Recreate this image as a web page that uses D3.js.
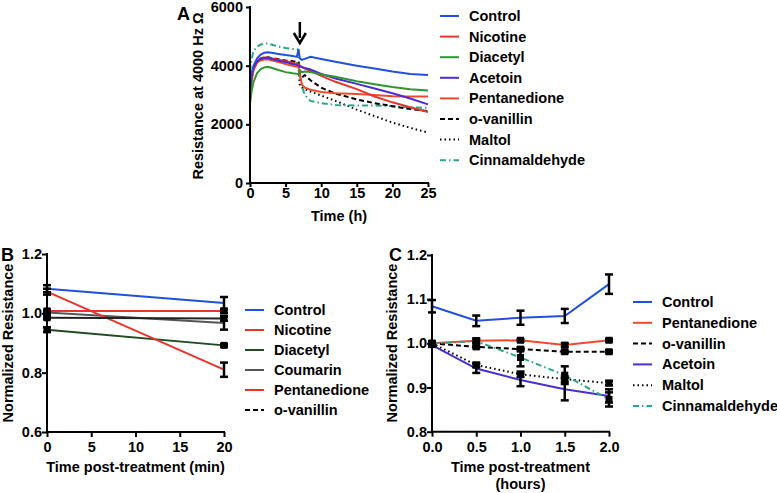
<!DOCTYPE html>
<html><head><meta charset="utf-8">
<script src="https://cdn.jsdelivr.net/npm/d3@7"></script>
<style>
body{margin:0;background:#fff;}
text{font-family:"Liberation Sans",Arial,sans-serif;font-weight:bold;}
</style></head>
<body><svg id="c" width="777" height="493"></svg>
<script>
// ---------- Panel A data ----------
const tA = [0,0.2,0.5,1,1.5,2,2.5,3,4,5,6,6.6,6.8,7,7.3,7.7,8.5,10,12,15,17.5,20,22.5,25];
const aControl = [3300,3700,4000,4250,4380,4440,4460,4440,4400,4360,4330,4300,4550,4250,4200,4230,4300,4230,4130,4000,3900,3800,3720,3680];
const aNicotine = [3000,3500,3900,4150,4250,4280,4280,4250,4200,4150,4100,4050,4050,4000,3950,3900,3820,3650,3450,3200,2950,2750,2580,2420];
const aDiacetyl = [2700,3100,3450,3750,3880,3940,3960,3930,3850,3780,3740,3720,3700,3850,3780,3800,3780,3700,3620,3470,3370,3270,3200,3150];
const aAcetoin = [3200,3600,3950,4150,4230,4260,4270,4230,4170,4120,4060,4020,4000,3980,3950,3920,3870,3720,3560,3380,3220,3060,2880,2680];
const aPentanedione = [3000,3450,3850,4100,4180,4210,4220,4180,4120,4060,4000,3960,3950,3700,3350,3250,3180,3100,3060,3030,3000,2960,2950,2950];
const aVanillin = [3200,3600,3950,4150,4250,4280,4290,4260,4220,4180,4150,4120,4100,3700,3600,3680,3500,3250,3050,2850,2720,2620,2520,2450];
const aMaltol = [3100,3500,3900,4150,4200,4250,4260,4220,4180,4150,4100,4080,4060,3300,3250,3200,3120,2980,2800,2500,2280,2060,1880,1720];
const aCinnam = [3800,4200,4500,4650,4720,4750,4760,4720,4650,4600,4570,4560,4550,3650,3300,3000,2800,2720,2660,2640,2640,2620,2580,2560];
const aNames = ["Control","Nicotine","Diacetyl","Acetoin","Pentanedione","o-vanillin","Maltol","Cinnamaldehyde"];
const aXTicks = [0,5,10,15,20,25];
const aYTicks = [0,2000,4000,6000];
const arrowT = 7;

// ---------- Panel B data ----------
const tB = [0,20];
const bNames = ["Control","Nicotine","Diacetyl","Coumarin","Pentanedione","o-vanillin"];
const bControl = [1.083,1.035], bControlErr = [0.012,0.02];
const bNicotine = [1.008,1.008], bNicotineErr = [0.004,0.006];
const bDiacetyl = [0.945,0.892], bDiacetylErr = [0.008,0.004];
const bCoumarin = [1.003,0.967], bCoumarinErr = [0.008,0.022];
const bPentanedione = [1.073,0.81], bPentanedioneErr = [0.01,0.024];
const bVanillin = [0.985,0.983], bVanillinErr = [0.004,0.008];
const bXTicks = [0,5,10,15,20];
const bYTicks = [0.6,0.8,1.0,1.2];

// ---------- Panel C data ----------
const tC = [0,0.5,1,1.5,2];
const cNames = ["Control","Pentanedione","o-vanillin","Acetoin","Maltol","Cinnamaldehyde"];
const cControl = [1.084,1.051,1.058,1.062,1.134], cControlErr = [0.014,0.012,0.016,0.016,0.022];
const cPentanedione = [1.0,1.006,1.007,0.996,1.007], cPentanedioneErr = [0.003,0.005,0.003,0.004,0.003];
const cVanillin = [1.0,0.992,0.987,0.981,0.981], cVanillinErr = [0.003,0.003,0.004,0.003,0.003];
const cAcetoin = [0.996,0.943,0.917,0.896,0.881], cAcetoinErr = [0.004,0.01,0.014,0.025,0.015];
const cMaltol = [1.0,0.951,0.93,0.919,0.91], cMaltolErr = [0.003,0.005,0.006,0.006,0.005];
const cCinnam = [1.0,1.005,0.968,0.928,0.873], cCinnamErr = [0.003,0.004,0.02,0.02,0.016];
const cXTicks = [0,0.5,1.0,1.5,2.0];
const cYTicks = [0.8,0.9,1.0,1.1,1.2];

// ---------- styles ----------
const BLUE="#2250dc", RED="#e8352c", GREEN="#2f9632", DKGREEN="#1f4a22", PURPLE="#4a2ed4", ORANGE="#f04a2a", TEAL="#2aa58a", GRAY="#555555", BLACK="#000";
const DASH="5,3", DOT="1.5,3", DASHDOT="6,3,1.5,3";

const svg = d3.select("#c");
const FS = 14.5;

function axes(g, x, y, xt, yt, xf, yf, xLab, yLab, tick) {
  const ax = g.append("g").attr("transform",`translate(0,${y.range()[0]})`)
    .call(d3.axisBottom(x).tickValues(xt).tickFormat(xf).tickSize(tick).tickSizeOuter(0));
  const ay = g.append("g").attr("transform",`translate(${x.range()[0]},0)`)
    .call(d3.axisLeft(y).tickValues(yt).tickFormat(yf).tickSize(tick).tickSizeOuter(0));
  [ax,ay].forEach(a=>{
    a.selectAll("path,line").attr("stroke","#000").attr("stroke-width",2);
    a.selectAll("text").attr("font-size",FS).attr("font-weight","bold").attr("fill","#000")
     .attr("font-family","Liberation Sans, Arial, sans-serif");
  });
  ax.select(".domain").attr("d",`M${x.range()[0]-1},0H${x.range()[1]+1}`);
  ay.select(".domain").attr("d",`M0,${y.range()[0]+1}V${y.range()[1]-1}`);
  ay.selectAll("text").attr("x",-yLab);
  ax.selectAll("text").attr("y",xLab);
}

function legend(g, items, x0, y0, dy) {
  items.forEach((it,i)=>{
    const yy = y0 + i*dy;
    g.append("line").attr("x1",x0).attr("x2",x0+19).attr("y1",yy).attr("y2",yy)
      .attr("stroke",it.color).attr("stroke-width",2).attr("stroke-dasharray",it.dash||null);
    g.append("text").attr("x",x0+29).attr("y",yy+5).attr("font-size",FS).text(it.name);
  });
}

// ---------- Panel A ----------
{
  const g = svg.append("g");
  const x = d3.scaleLinear().domain([0,25]).range([250,428]);
  const y = d3.scaleLinear().domain([0,6000]).range([183,7]);
  const series = [
    {name:aNames[0], v:aControl, color:BLUE},
    {name:aNames[1], v:aNicotine, color:RED},
    {name:aNames[2], v:aDiacetyl, color:GREEN},
    {name:aNames[3], v:aAcetoin, color:PURPLE},
    {name:aNames[4], v:aPentanedione, color:ORANGE},
    {name:aNames[5], v:aVanillin, color:BLACK, dash:DASH},
    {name:aNames[6], v:aMaltol, color:BLACK, dash:DOT},
    {name:aNames[7], v:aCinnam, color:TEAL, dash:DASHDOT}
  ];
  const line = d3.line().x((d,i)=>x(tA[i])).y(d=>y(d));
  const drawOrder = [6,7,5,4,1,3,2,0];
  drawOrder.forEach(k=>{
    const s = series[k];
    g.append("path").attr("d",line(s.v)).attr("fill","none").attr("stroke",s.color)
      .attr("stroke-width",2).attr("stroke-dasharray",s.dash||null);
  });
  axes(g,x,y,aXTicks,aYTicks,d3.format("d"),d3.format("d"),5,7,4);
  // arrow
  const ax = x(arrowT);
  g.append("line").attr("x1",ax).attr("x2",ax).attr("y1",22).attr("y2",38).attr("stroke","#000").attr("stroke-width",2.5);
  g.append("path").attr("d",`M${ax-6},33L${ax},43L${ax+6},33`).attr("fill","none").attr("stroke","#000").attr("stroke-width",2.5);
  g.append("text").attr("x",177).attr("y",20).attr("font-size",18).text("A");
  g.append("text").attr("transform",`translate(203,96) rotate(-90)`).attr("text-anchor","middle")
    .attr("font-size",FS).text("Resistance at 4000 Hz Ω");
  g.append("text").attr("x",x(12.5)).attr("y",221).attr("text-anchor","middle").attr("font-size",FS).text("Time (h)");
  legend(g, series, 440, 16, 20.6);
}

function errPanel(g, x, y, ts, series) {
  const line = d3.line().x((d,i)=>x(ts[i])).y(d=>y(d));
  series.forEach(s=>{
    g.append("path").attr("d",line(s.v)).attr("fill","none").attr("stroke",s.color)
      .attr("stroke-width",2).attr("stroke-dasharray",s.dash||null);
  });
  series.forEach(s=>{
    s.v.forEach((v,i)=>{
      const cx = x(ts[i]);
      const e = s.e[i];
      g.append("line").attr("x1",cx).attr("x2",cx).attr("y1",y(v+e)).attr("y2",y(v-e)).attr("stroke","#000").attr("stroke-width",2.5);
      [v+e,v-e].forEach(w=>g.append("line").attr("x1",cx-4).attr("x2",cx+4).attr("y1",y(w)).attr("y2",y(w)).attr("stroke","#000").attr("stroke-width",2.5));
      if (s.marker) g.append("rect").attr("x",cx-3.5).attr("y",y(v)-3.5).attr("width",7).attr("height",7).attr("fill","#000");
    });
  });
}

// ---------- Panel B ----------
{
  const g = svg.append("g");
  const x = d3.scaleLinear().domain([0,20]).range([47,224]);
  const y = d3.scaleLinear().domain([0.6,1.2]).range([432,254]);
  const series = [
    {name:bNames[0], v:bControl, e:bControlErr, color:BLUE},
    {name:bNames[1], v:bNicotine, e:bNicotineErr, color:RED, marker:true},
    {name:bNames[2], v:bDiacetyl, e:bDiacetylErr, color:DKGREEN, marker:true},
    {name:bNames[3], v:bCoumarin, e:bCoumarinErr, color:GRAY},
    {name:bNames[4], v:bPentanedione, e:bPentanedioneErr, color:RED},
    {name:bNames[5], v:bVanillin, e:bVanillinErr, color:"#222", marker:true}
  ];
  errPanel(g,x,y,tB,series);
  axes(g,x,y,bXTicks,bYTicks,d3.format("d"),d3.format(".1f"),10,5,5);
  g.append("text").attr("x",1).attr("y",261).attr("font-size",18).text("B");
  g.append("text").attr("transform",`translate(13,343) rotate(-90)`).attr("text-anchor","middle")
    .attr("font-size",FS).text("Normalized Resistance");
  g.append("text").attr("x",x(10)).attr("y",472).attr("text-anchor","middle").attr("font-size",FS).text("Time post-treatment (min)");
  const leg = series.map(s=>({name:s.name,color:s.name==="o-vanillin"?BLACK:s.color,dash:s.name==="o-vanillin"?DASH:null}));
  legend(g, leg, 245, 310, 20);
}

// ---------- Panel C ----------
{
  const g = svg.append("g");
  const x = d3.scaleLinear().domain([0,2]).range([432,609]);
  const y = d3.scaleLinear().domain([0.8,1.2]).range([431.7,255]);
  const series = [
    {name:cNames[0], v:cControl, e:cControlErr, color:BLUE},
    {name:cNames[1], v:cPentanedione, e:cPentanedioneErr, color:ORANGE, marker:true},
    {name:cNames[2], v:cVanillin, e:cVanillinErr, color:BLACK, dash:DASH, marker:true},
    {name:cNames[3], v:cAcetoin, e:cAcetoinErr, color:PURPLE},
    {name:cNames[4], v:cMaltol, e:cMaltolErr, color:BLACK, dash:DOT, marker:true},
    {name:cNames[5], v:cCinnam, e:cCinnamErr, color:TEAL, dash:DASHDOT, marker:true}
  ];
  errPanel(g,x,y,tC,series);
  axes(g,x,y,cXTicks,cYTicks,d3.format(".1f"),d3.format(".1f"),10,5,5);
  g.append("text").attr("transform",`translate(397,343) rotate(-90)`).attr("text-anchor","middle")
    .attr("font-size",FS).text("Normalized Resistance");
  g.append("rect").attr("x",389).attr("y",244).attr("width",14).attr("height",20).attr("fill","#fff");
  g.append("text").attr("x",389).attr("y",261).attr("font-size",18).text("C");
  g.append("text").attr("x",x(1)).attr("y",472).attr("text-anchor","middle").attr("font-size",FS).text("Time post-treatment");
  g.append("text").attr("x",x(1)).attr("y",489).attr("text-anchor","middle").attr("font-size",FS).text("(hours)");
  legend(g, series, 633, 302, 20.8);
}
</script></body></html>
